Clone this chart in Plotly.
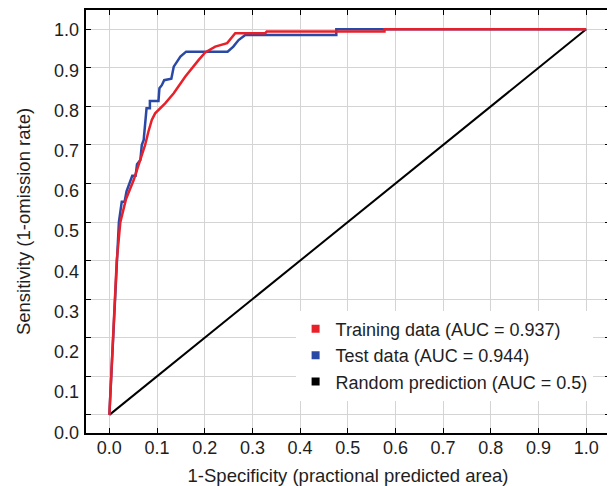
import plotly.graph_objects as go

# ---- data ----
train_x = [0, 0.004, 0.008, 0.012, 0.0155, 0.023, 0.035, 0.051, 0.058, 0.065, 0.075, 0.082,
           0.089, 0.096, 0.117, 0.135, 0.159, 0.187, 0.201, 0.222, 0.247, 0.264, 0.327, 0.33,
           0.577, 0.577, 1.0]
train_y = [0, 0.10, 0.20, 0.30, 0.40, 0.50, 0.56, 0.609, 0.635, 0.66, 0.70, 0.735,
           0.765, 0.782, 0.808, 0.834, 0.877, 0.920, 0.94, 0.955, 0.964, 0.990, 0.990, 0.994,
           0.994, 1.0, 1.0]

test_x = [0, 0.004, 0.007, 0.011, 0.015, 0.020, 0.026, 0.032, 0.036, 0.044, 0.048, 0.055,
          0.058, 0.065, 0.068, 0.072, 0.075, 0.078, 0.085, 0.085, 0.103, 0.105, 0.110, 0.115,
          0.130, 0.135, 0.142, 0.149, 0.161, 0.248, 0.260, 0.271, 0.285, 0.476, 0.476, 1.0]
test_y = [0, 0.10, 0.20, 0.30, 0.40, 0.50, 0.553, 0.553, 0.58, 0.609, 0.62, 0.62,
          0.65, 0.661, 0.70, 0.713, 0.75, 0.795, 0.795, 0.814, 0.814, 0.847, 0.855, 0.868,
          0.872, 0.903, 0.916, 0.929, 0.942, 0.942, 0.955, 0.972, 0.985, 0.985, 1.0, 1.0]

random_x = [0, 1]
random_y = [0, 1]

series_names = ["Training data (AUC = 0.937)", "Test data (AUC = 0.944)",
                "Random prediction (AUC = 0.5)"]

x_tick_vals = [0.0, 0.1, 0.2, 0.3, 0.4, 0.5, 0.6, 0.7, 0.8, 0.9, 1.0]
x_tick_text = ["0.0", "0.1", "0.2", "0.3", "0.4", "0.5", "0.6", "0.7", "0.8", "0.9", "1.0"]
y_grid_vals = [0.0, 0.1, 0.2, 0.3, 0.4, 0.5, 0.6, 0.7, 0.8, 0.9, 1.0]
y_tick_vals = [0.0, 0.1, 0.2, 0.3, 0.4, 0.5, 0.6, 0.7, 0.8, 0.9, 1.0]
y_tick_text = ["0.0", "0.1", "0.2", "0.3", "0.4", "0.5", "0.6", "0.7", "0.8", "0.9", "1.0"]

RED = "#e8202a"
BLUE = "#2a48a6"
BLACK = "#000000"
TXT = "#1e1e1e"
FONT = "Liberation Sans, Arial, sans-serif"

fig = go.Figure()

fig.add_trace(go.Scatter(x=random_x, y=random_y, mode="lines",
                         line=dict(color=BLACK, width=2), showlegend=False, hoverinfo="skip"))
fig.add_trace(go.Scatter(x=test_x, y=test_y, mode="lines",
                         line=dict(color=BLUE, width=2.5), showlegend=False, hoverinfo="skip"))
fig.add_trace(go.Scatter(x=train_x, y=train_y, mode="lines",
                         line=dict(color=RED, width=2.5), showlegend=False, hoverinfo="skip"))

# legend entries with square swatches
for name, col in zip(series_names, [RED, BLUE, BLACK]):
    fig.add_trace(go.Scatter(x=[None], y=[None], mode="markers", name=name,
                             marker=dict(symbol="square", size=8, color=col)))

# carrier for the label axis
fig.add_trace(go.Scatter(x=[None], y=[None], yaxis="y2", showlegend=False, hoverinfo="skip"))

# the page body adds an 8px offset, so the figure is 8px smaller on each side
fig.update_layout(
    width=607, height=478,
    margin=dict(l=78, r=5, t=2, b=53),
    paper_bgcolor="white", plot_bgcolor="white",
    font=dict(family=FONT, size=18, color=TXT),
    xaxis=dict(
        automargin=False,
        range=[-0.049, 1.05], tickvals=x_tick_vals, ticktext=x_tick_text,
        showgrid=True, gridcolor="#d4d4d4", gridwidth=1, zeroline=False,
        showline=True, linecolor="black", linewidth=2, mirror="ticks",
        ticks="inside", ticklen=5, tickcolor="black", tickwidth=1,
        ticklabelstandoff=-3,
        tickfont=dict(size=18, color=TXT),
        title=dict(text="1-Specificity (practional predicted area)",
                   font=dict(size=18.5, color=TXT), standoff=22),
    ),
    yaxis=dict(
        automargin=False,
        range=[-0.047, 1.05], tickvals=y_grid_vals, showticklabels=False,
        showgrid=True, gridcolor="#d4d4d4", gridwidth=1, zeroline=False,
        showline=True, linecolor="black", linewidth=2, mirror="ticks",
        ticks="inside", ticklen=5, tickcolor="black", tickwidth=1,
    ),
    yaxis2=dict(
        automargin=False,
        overlaying="y", anchor="x", side="left",
        range=[-0.002, 1.05], tickvals=y_tick_vals, ticktext=y_tick_text,
        showgrid=False, zeroline=False, showline=False, ticks="",
        ticklabelstandoff=6,
        tickfont=dict(size=18, color=TXT),
        title=dict(text="Sensitivity (1-omission rate)",
                   font=dict(size=18.5, color=TXT), standoff=18),
    ),
    legend=dict(
        x=0.40, y=0.2895, xanchor="left", yanchor="top",
        bgcolor="white", borderwidth=0,
        font=dict(size=18, color=TXT),
        tracegroupgap=0,
    ),
)

fig.write_html("out.html")
